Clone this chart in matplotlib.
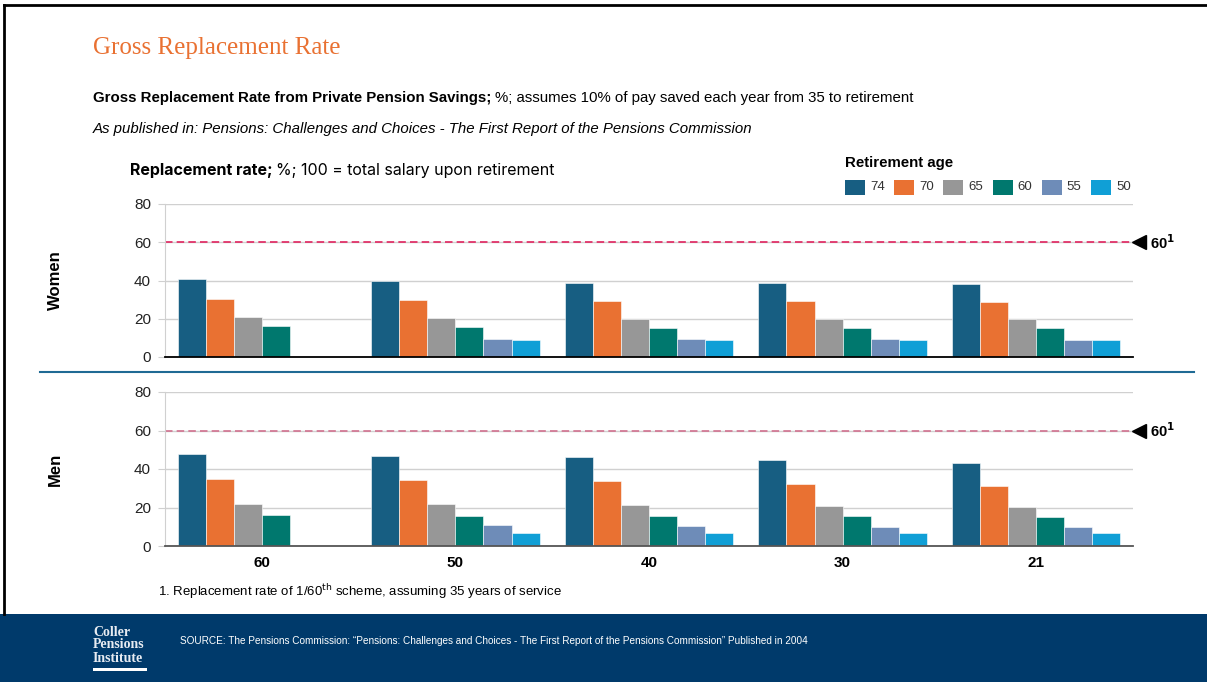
import matplotlib
matplotlib.use("Agg")
import matplotlib.pyplot as plt
import numpy as np
from matplotlib.lines import Line2D
from matplotlib.patches import Rectangle

# ── Data ─────────────────────────────────────────────────
start_ages = ["60", "50", "40", "30", "21"]
retire_ages = ["74", "70", "65", "60", "55", "50"]
colors = ["#175E82", "#E97132", "#979797", "#00786E", "#6E8CB8", "#109FD6"]

# replacement rate by retirement age (rows) for each starting age (cols)
women = [
    [41.0, 40.0, 38.8, 38.8, 38.3],
    [30.3, 29.9, 29.2, 29.2, 28.6],
    [20.8, 20.3, 19.8, 19.8, 19.8],
    [16.0, 15.6, 15.4, 15.2, 15.0],
    [np.nan, 9.6, 9.6, 9.6, 8.7],
    [np.nan, 8.7, 8.7, 8.7, 8.7],
]
men = [
    [47.8, 47.0, 46.1, 44.5, 43.0],
    [35.0, 34.1, 33.6, 32.0, 31.1],
    [21.9, 21.6, 21.2, 20.7, 20.2],
    [16.0, 15.8, 15.5, 15.5, 15.3],
    [np.nan, 11.0, 10.6, 9.9, 9.9],
    [np.nan, 7.0, 7.0, 7.0, 7.0],
]
db_benchmark = 60

W, H = 1207, 682
fig = plt.figure(figsize=(W / 100, H / 100), dpi=100, facecolor="white")


def px_axes(x0, y0, x1, y1):
    """Axes from pixel box (top-left origin)."""
    return fig.add_axes([x0 / W, 1 - y1 / H, (x1 - x0) / W, (y1 - y0) / H])


def px_text(x, y, s, **kw):
    return fig.text(x / W, 1 - y / H, s, **kw)


def run_after(t, y, s, gap=4, **kw):
    """Place text right after another text artist on the same line."""
    fig.canvas.draw()
    bb = t.get_window_extent()
    return px_text(bb.x1 + gap, y, s, **kw)


# ── Slide frame / footer ─────────────────────────────────
fig.add_artist(Line2D([4 / W, 4 / W], [1 - 5 / H, 1 - 614 / H], color="black", lw=2))
fig.add_artist(Line2D([4 / W, 1207 / W], [1 - 5 / H, 1 - 5 / H], color="black", lw=2))
fig.add_artist(Rectangle((0, 0), 1, (H - 614) / H, transform=fig.transFigure,
                         facecolor="#003A6B", edgecolor="none"))

# ── Headings ─────────────────────────────────────────────
px_text(93, 48, "Gross Replacement Rate", fontsize=18, color="#E97132",
        family="Liberation Serif", va="center")
t = px_text(93, 98, "Gross Replacement Rate from Private Pension Savings;",
            fontsize=10.8, fontweight="bold", family="Liberation Sans", va="center")
run_after(t, 98, "%; assumes 10% of pay saved each year from 35 to retirement",
          fontsize=10.8, family="Liberation Sans", va="center")
px_text(93, 129, "As published in: Pensions: Challenges and Choices - The First Report of the Pensions Commission",
        fontsize=10.8, style="italic", family="Liberation Sans", va="center")

t = px_text(130, 170, "Replacement rate;", fontsize=11.5, fontweight="bold",
            family="Inter", va="center")
run_after(t, 170, "%; 100 = total salary upon retirement", fontsize=11.5,
          family="Inter", va="center")

# ── Legend ───────────────────────────────────────────────
px_text(845, 163, "Retirement age", fontsize=10.8, fontweight="bold",
        family="Liberation Sans", va="center")
for i, (lab, c) in enumerate(zip(retire_ages, colors)):
    x = 845 + i * 49.2
    fig.add_artist(Rectangle((x / W, 1 - 195 / H), 20 / W, 15 / H,
                             transform=fig.transFigure, facecolor=c, edgecolor="none"))
    px_text(x + 25, 187.5, lab, fontsize=9.5, family="Liberation Sans",
            color="#333333", va="center")

# ── Panels ───────────────────────────────────────────────
n_grp = len(start_ages)
n_bar = len(retire_ages)
bw = 0.145
offsets = (np.arange(n_bar) - (n_bar - 1) / 2) * bw
xpos = np.arange(n_grp)


def draw_panel(ax, values, label, ref_color, base_color, show_x):
    for j in range(n_bar):
        ax.bar(xpos + offsets[j], values[j], width=bw, color=colors[j],
               edgecolor="white", linewidth=0.4, zorder=3)
    ax.set_xlim(-0.5, n_grp - 0.5)
    ax.set_ylim(0, 80)
    ax.set_yticks([0, 20, 40, 60, 80])
    ax.yaxis.grid(True, color="#D0D0D0", linewidth=1.0, zorder=0)
    ax.set_axisbelow(True)
    for s in ("top", "right"):
        ax.spines[s].set_visible(False)
    ax.spines["left"].set_color("#D0D0D0")
    ax.spines["bottom"].set_color(base_color)
    ax.spines["bottom"].set_linewidth(1.3)
    ax.spines["bottom"].set_zorder(4)
    ax.tick_params(axis="y", length=5, color="#D0D0D0", labelsize=11,
                   labelcolor="#222222", pad=5)
    for tl in ax.get_yticklabels():
        tl.set_family("Liberation Sans")
    ax.axhline(db_benchmark, color=ref_color, lw=1.2, ls=(0, (4.5, 2.5)), zorder=2)
    if show_x:
        ax.set_xticks(xpos)
        ax.set_xticklabels(start_ages, fontsize=11, fontweight="bold",
                           family="Liberation Sans")
        ax.tick_params(axis="x", length=0, pad=7)
    else:
        ax.set_xticks([])
    ax.text(-0.113, 0.5, label, transform=ax.transAxes, rotation=90,
            fontsize=12, fontweight="bold", family="Liberation Sans",
            ha="center", va="center")
    # benchmark marker on the right
    ax.plot([1.0065], [db_benchmark], marker="<", markersize=10, color="black",
            transform=ax.get_yaxis_transform(), clip_on=False)
    ax.text(1.0175, db_benchmark, "60$^{\\mathbf{1}}$", transform=ax.get_yaxis_transform(),
            fontsize=10.5, fontweight="bold", family="Liberation Sans",
            va="center", ha="left")


ax_w = px_axes(165, 204, 1133, 357)
draw_panel(ax_w, women, "Women", "#E0245E", "black", False)
ax_m = px_axes(165, 392, 1133, 546)
draw_panel(ax_m, men, "Men", "#D0708E", "#555555", True)

# separator between the panels
fig.add_artist(Line2D([40 / W, 1194 / W], [1 - 372 / H, 1 - 372 / H],
                      color="#1F6A94", lw=1.5))

# ── Footnote / source ────────────────────────────────────
px_text(158, 592, "1. Replacement rate of 1/60$^{\\mathrm{th}}$ scheme, assuming 35 years of service",
        fontsize=9.5, family="Liberation Sans", va="center")
px_text(93, 645, "Coller\nPensions\nInstitute", fontsize=10, color="#E8ECF2",
        family="Liberation Serif", fontweight="bold", va="center", linespacing=1.0)
fig.add_artist(Rectangle((93 / W, 1 - 671 / H), 54 / W, 3 / H,
                         transform=fig.transFigure, facecolor="white", edgecolor="none"))
px_text(180, 641, "SOURCE: The Pensions Commission: \u201cPensions: Challenges and Choices - "
        "The First Report of the Pensions Commission\u201d Published in 2004",
        fontsize=7.2, color="white", family="Liberation Sans", va="center")

fig.savefig("out.png", dpi=100, facecolor="white")
